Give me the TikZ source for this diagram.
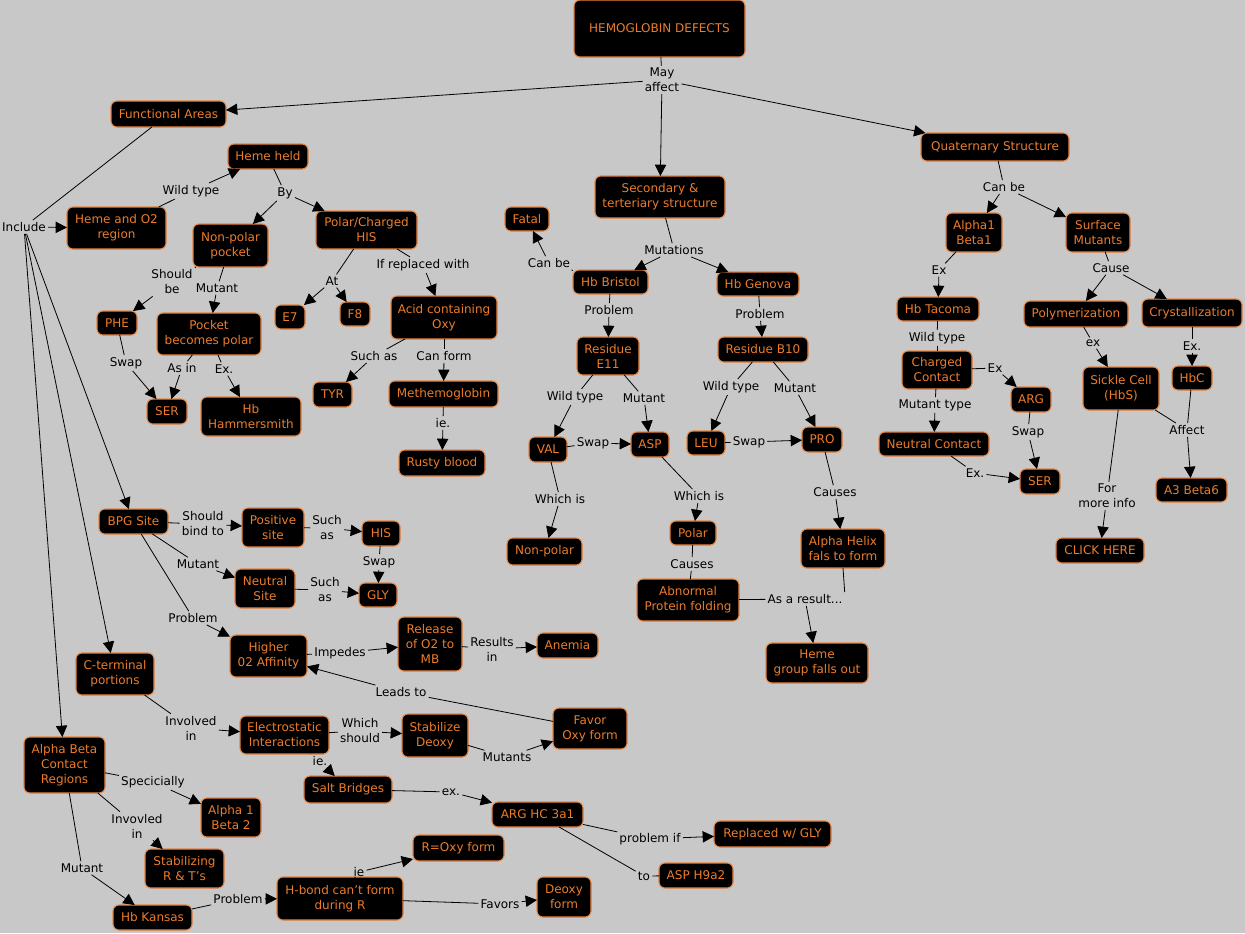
\documentclass[tikz,border=0pt]{standalone}
\usepackage{fontspec}
\setmainfont{DejaVu Sans}
\usetikzlibrary{arrows.meta}
\definecolor{bgc}{RGB}{200,200,200}
\definecolor{otext}{RGB}{236,124,44}
\definecolor{oline}{RGB}{232,132,64}
\tikzset{
  cbox/.style={draw=oline,fill=black,text=otext,rounded corners=4.5pt,line width=0.8pt,
    align=center,inner sep=1pt,outer sep=0pt,font=\fontsize{9}{11.25}\selectfont},
  lbl/.style={align=center,inner sep=1.5pt,text=black,font=\fontsize{9}{11.25}\selectfont},
  ln/.style={draw=black,line width=0.6pt},
  arr/.style={ln,-{Triangle[length=8.5pt,width=8.5pt]}}
}
\newcommand\conc[6]{\node[cbox,minimum width={(#4-#2)*0.75pt},minimum height={(#5-#3)*0.75pt}] (#1) at ({(#2+#4)/2},{(#3+#5)/2}) {#6};}
\newcommand\lab[4]{\node[lbl] (#1) at (#2,#3) {#4};}
\begin{document}
\begin{tikzpicture}[x=0.75pt,y=-0.75pt]
\fill[bgc] (0,0) rectangle (1245,933);
\useasboundingbox (0,0) rectangle (1245,933);
% concepts
\conc{hd}{574}{0}{745}{57}{HEMOGLOBIN DEFECTS}
\conc{fa}{111}{101}{226}{127}{Functional Areas}
\conc{st}{595}{176}{725}{218}{Secondary \&\\terteriary structure}
\conc{qs}{921}{133}{1069}{161}{Quaternary Structure}
\conc{hh}{228}{144}{308}{169}{Heme held}
\conc{ho}{67}{207}{166}{249}{Heme and O2\\region}
\conc{np}{193}{224}{268}{267}{Non-polar\\pocket}
\conc{pc}{316}{211}{417}{249}{Polar/Charged\\HIS}
\conc{phe}{97}{311}{137}{335}{PHE}
\conc{pbp}{157}{313}{261}{355}{Pocket\\becomes polar}
\conc{ee}{275}{305}{305}{329}{E7}
\conc{ff}{340}{302}{370}{326}{F8}
\conc{aco}{391}{296}{497}{339}{Acid containing\\Oxy}
\conc{serl}{147}{399}{187}{424}{SER}
\conc{hbh}{201}{397}{301}{436}{Hb\\Hammersmith}
\conc{tyr}{313}{382}{352}{407}{TYR}
\conc{met}{389}{381}{498}{407}{Methemoglobin}
\conc{rusty}{399}{450}{485}{476}{Rusty blood}
\conc{fatal}{505}{207}{549}{231}{Fatal}
\conc{hbb}{573}{270}{648}{294}{Hb Bristol}
\conc{hbg}{717}{272}{799}{296}{Hb Genova}
\conc{re}{577}{337}{639}{375}{Residue\\E11}
\conc{rb}{718}{337}{808}{362}{Residue B10}
\conc{val}{529}{437}{567}{462}{VAL}
\conc{asp}{631}{432}{669}{457}{ASP}
\conc{leu}{687}{431}{725}{455}{LEU}
\conc{pro}{802}{427}{842}{452}{PRO}
\conc{nonp}{507}{538}{582}{565}{Non-polar}
\conc{polar}{670}{521}{716}{545}{Polar}
\conc{ahf}{801}{529}{885}{568}{Alpha Helix\\fals to form}
\conc{apf}{637}{579}{739}{621}{Abnormal\\Protein folding}
\conc{hgf}{766}{643}{868}{683}{Heme\\group falls out}
\conc{aob}{946}{213}{1002}{252}{Alpha1\\Beta1}
\conc{sm}{1066}{213}{1130}{252}{Surface\\Mutants}
\conc{hbt}{897}{297}{979}{321}{Hb Tacoma}
\conc{poly}{1024}{301}{1128}{327}{Polymerization}
\conc{crys}{1142}{299}{1242}{327}{Crystallization}
\conc{cc}{902}{351}{972}{389}{Charged\\Contact}
\conc{argr}{1011}{387}{1051}{412}{ARG}
\conc{nc}{879}{432}{989}{456}{Neutral Contact}
\conc{serr}{1020}{469}{1060}{494}{SER}
\conc{sc}{1083}{367}{1159}{410}{Sickle Cell\\(HbS)}
\conc{hbc}{1172}{366}{1212}{390}{HbC}
\conc{atb}{1156}{478}{1227}{502}{A3 Beta6}
\conc{click}{1056}{538}{1144}{563}{CLICK HERE}
\conc{bpg}{99}{509}{168}{534}{BPG Site}
\conc{ps}{242}{508}{304}{547}{Positive\\site}
\conc{his}{362}{521}{400}{546}{HIS}
\conc{ns}{235}{569}{295}{608}{Neutral\\Site}
\conc{gly}{359}{583}{397}{607}{GLY}
\conc{hoa}{230}{635}{307}{677}{Higher\\02 Affinity}
\conc{rel}{398}{617}{462}{671}{Release\\of O2 to\\MB}
\conc{anem}{537}{633}{598}{658}{Anemia}
\conc{ct}{76}{653}{154}{695}{C-terminal\\portions}
\conc{fox}{553}{708}{627}{749}{Favor\\Oxy form}
\conc{ei}{240}{716}{329}{754}{Electrostatic\\Interactions}
\conc{sd}{402}{714}{468}{757}{Stabilize\\Deoxy}
\conc{abc}{24}{737}{105}{793}{Alpha Beta\\Contact\\Regions}
\conc{sb}{304}{776}{392}{803}{Salt Bridges}
\conc{aobt}{201}{798}{261}{837}{Alpha 1\\Beta 2}
\conc{arghc}{492}{802}{583}{827}{ARG HC 3a1}
\conc{rgly}{714}{821}{831}{847}{Replaced w/ GLY}
\conc{roxy}{413}{835}{504}{861}{R=Oxy form}
\conc{srt}{145}{849}{224}{888}{Stabilizing\\R \& T's}
\conc{asph}{659}{863}{733}{888}{ASP H9a2}
\conc{hbond}{277}{877}{403}{920}{H-bond can't form\\during R}
\conc{dof}{537}{877}{591}{917}{Deoxy\\form}
\conc{kansas}{113}{905}{192}{930}{Hb Kansas}
% linking phrases
\lab{lmay}{662}{80}{May\\affect}
\lab{linc}{24}{227}{Include}
\lab{lwta}{191}{191}{Wild type}
\lab{lby}{285}{193}{By}
\lab{lsb}{172}{282}{Should\\be}
\lab{lmua}{217}{288}{Mutant}
\lab{lat}{332}{281}{At}
\lab{lirw}{423}{265}{If replaced with}
\lab{lswa}{126}{363}{Swap}
\lab{lasin}{182}{368}{As in}
\lab{lexa}{224}{369}{Ex.}
\lab{lsaa}{374}{356}{Such as}
\lab{lcf}{444}{356}{Can form}
\lab{liea}{443}{423}{ie.}
\lab{lcba}{549}{263}{Can be}
\lab{lmut}{674}{250}{Mutations}
\lab{lpra}{609}{310}{Problem}
\lab{lprb}{760}{314}{Problem}
\lab{lwtb}{575}{397}{Wild type}
\lab{lmub}{644}{398}{Mutant}
\lab{lwtc}{731}{387}{Wild type}
\lab{lmuc}{795}{388}{Mutant}
\lab{lswb}{593}{443}{Swap}
\lab{lswc}{749}{442}{Swap}
\lab{lwia}{560}{499}{Which is}
\lab{lwib}{699}{496}{Which is}
\lab{lcaa}{835}{492}{Causes}
\lab{lcab}{692}{564}{Causes}
\lab{laar}{805}{599}{As a result...}
\lab{lcbb}{1004}{187}{Can be}
\lab{lexb}{939}{270}{Ex}
\lab{lcause}{1111}{268}{Cause}
\lab{lwtd}{937}{338}{Wild type}
\lab{lexc}{995}{368}{Ex}
\lab{lmt}{935}{405}{Mutant type}
\lab{lswd}{1028}{432}{Swap}
\lab{lexd}{975}{473}{Ex.}
\lab{lexe}{1093}{343}{ex}
\lab{lexf}{1192}{346}{Ex.}
\lab{laff}{1187}{430}{Affect}
\lab{lfmi}{1107}{496}{For\\more info}
\lab{lsbt}{203}{524}{Should\\bind to}
\lab{lsab}{327}{528}{Such\\as}
\lab{lswe}{379}{562}{Swap}
\lab{lmud}{198}{564}{Mutant}
\lab{lsac}{325}{590}{Such\\as}
\lab{lprc}{193}{618}{Problem}
\lab{limp}{340}{653}{Impedes}
\lab{lri}{492}{649}{Results\\in}
\lab{llt}{401}{692}{Leads to}
\lab{lii}{191}{728}{Involved\\in}
\lab{lws}{360}{731}{Which\\should}
\lab{lmts}{507}{757}{Mutants}
\lab{lieb}{320}{761}{ie.}
\lab{lspec}{153}{782}{Specicially}
\lab{linv}{137}{826}{Invovled\\in}
\lab{lexg}{451}{792}{ex.}
\lab{lpif}{650}{839}{problem if}
\lab{lto}{644}{876}{to}
\lab{lmue}{82}{868}{Mutant}
\lab{liec}{359}{872}{ie}
\lab{lprd}{238}{899}{Problem}
\lab{lfav}{500}{904}{Favors}
% connectors
\draw[ln] (hd) -- (lmay);
\draw[arr] (lmay) -- (fa);
\draw[arr] (lmay) -- (st);
\draw[arr] (lmay) -- (qs);
\draw[ln] (fa) -- (linc);
\draw[arr] (linc) -- (ho);
\draw[arr] (linc) -- (bpg);
\draw[arr] (linc) -- (ct);
\draw[arr] (linc) -- (abc);
\draw[ln] (ho) -- (lwta);
\draw[arr] (lwta) -- (hh);
\draw[ln] (hh) -- (lby);
\draw[arr] (lby) -- (np);
\draw[arr] (lby) -- (pc);
\draw[ln] (np) -- (lsb);
\draw[arr] (lsb) -- (phe);
\draw[ln] (np) -- (lmua);
\draw[arr] (lmua) -- (pbp);
\draw[ln] (pc) -- (lat);
\draw[arr] (lat) -- (ee);
\draw[arr] (lat) -- (ff);
\draw[ln] (pc) -- (lirw);
\draw[arr] (lirw) -- (aco);
\draw[ln] (phe) -- (lswa);
\draw[arr] (lswa) -- (serl);
\draw[ln] (pbp) -- (lasin);
\draw[arr] (lasin) -- (serl);
\draw[ln] (pbp) -- (lexa);
\draw[arr] (lexa) -- (hbh);
\draw[ln] (aco) -- (lsaa);
\draw[arr] (lsaa) -- (tyr);
\draw[ln] (aco) -- (lcf);
\draw[arr] (lcf) -- (met);
\draw[ln] (met) -- (liea);
\draw[arr] (liea) -- (rusty);
\draw[ln] (st) -- (lmut);
\draw[arr] (lmut) -- (hbb);
\draw[arr] (lmut) -- (hbg);
\draw[ln] (hbb) -- (lcba);
\draw[arr] (lcba) -- (fatal);
\draw[ln] (hbb) -- (lpra);
\draw[arr] (lpra) -- (re);
\draw[ln] (hbg) -- (lprb);
\draw[arr] (lprb) -- (rb);
\draw[ln] (re) -- (lwtb);
\draw[arr] (lwtb) -- (val);
\draw[ln] (re) -- (lmub);
\draw[arr] (lmub) -- (asp);
\draw[ln] (rb) -- (lwtc);
\draw[arr] (lwtc) -- (leu);
\draw[ln] (rb) -- (lmuc);
\draw[arr] (lmuc) -- (pro);
\draw[ln] (val) -- (lswb);
\draw[arr] (lswb) -- (asp);
\draw[ln] (leu) -- (lswc);
\draw[arr] (lswc) -- (pro);
\draw[ln] (val) -- (lwia);
\draw[arr] (lwia) -- (nonp);
\draw[ln] (asp) -- (lwib);
\draw[arr] (lwib) -- (polar);
\draw[ln] (pro) -- (lcaa);
\draw[arr] (lcaa) -- (ahf);
\draw[ln] (polar) -- (lcab);
\draw[ln] (lcab) -- (apf);
\draw[ln] (apf) -- (laar);
\draw[ln] (ahf.south) -- (laar.north east);
\draw[arr] (laar) -- (hgf);
\draw[ln] (qs) -- (lcbb);
\draw[arr] (lcbb) -- (aob);
\draw[arr] (lcbb) -- (sm);
\draw[ln] (aob) -- (lexb);
\draw[arr] (lexb) -- (hbt);
\draw[ln] (sm) -- (lcause);
\draw[arr] (lcause) -- (poly);
\draw[arr] (lcause) -- (crys);
\draw[ln] (hbt) -- (lwtd);
\draw[ln] (lwtd) -- (cc);
\draw[ln] (cc) -- (lexc);
\draw[arr] (lexc) -- (argr);
\draw[ln] (cc) -- (lmt);
\draw[arr] (lmt) -- (nc);
\draw[ln] (argr) -- (lswd);
\draw[arr] (lswd) -- (serr);
\draw[ln] (nc) -- (lexd);
\draw[arr] (lexd) -- (serr);
\draw[ln] (poly) -- (lexe);
\draw[arr] (lexe) -- (sc);
\draw[ln] (crys) -- (lexf);
\draw[arr] (lexf) -- (hbc);
\draw[ln] (sc) -- (laff);
\draw[ln] (hbc) -- (laff);
\draw[arr] (laff) -- (atb);
\draw[ln] (sc) -- (lfmi);
\draw[arr] (lfmi) -- (click);
\draw[ln] (bpg) -- (lsbt);
\draw[arr] (lsbt) -- (ps);
\draw[ln] (ps) -- (lsab);
\draw[arr] (lsab) -- (his);
\draw[ln] (his) -- (lswe);
\draw[arr] (lswe) -- (gly);
\draw[ln] (bpg) -- (lmud);
\draw[arr] (lmud) -- (ns);
\draw[ln] (ns) -- (lsac);
\draw[arr] (lsac) -- (gly);
\draw[ln] (bpg) -- (lprc);
\draw[arr] (lprc) -- (hoa);
\draw[ln] (hoa) -- (limp);
\draw[arr] (limp) -- (rel);
\draw[ln] (rel) -- (lri);
\draw[arr] (lri) -- (anem);
\draw[ln] (fox) -- (llt);
\draw[arr] (llt) -- (hoa);
\draw[ln] (ct) -- (lii);
\draw[arr] (lii) -- (ei);
\draw[ln] (ei) -- (lws);
\draw[arr] (lws) -- (sd);
\draw[ln] (sd) -- (lmts);
\draw[arr] (lmts) -- (fox);
\draw[ln] (ei) -- (lieb);
\draw[arr] (lieb) -- (sb);
\draw[ln] (sb) -- (lexg);
\draw[arr] (lexg) -- (arghc);
\draw[ln] (arghc) -- (lpif);
\draw[arr] (lpif) -- (rgly);
\draw[ln] (arghc) -- (lto);
\draw[ln] (lto) -- (asph);
\draw[ln] (abc) -- (lspec);
\draw[arr] (lspec) -- (aobt);
\draw[ln] (abc) -- (linv);
\draw[arr] (linv) -- (srt);
\draw[ln] (abc) -- (lmue);
\draw[arr] (lmue) -- (kansas);
\draw[ln] (kansas) -- (lprd);
\draw[arr] (lprd) -- (hbond);
\draw[ln] (hbond) -- (liec);
\draw[arr] (liec) -- (roxy);
\draw[ln] (hbond) -- (lfav);
\draw[arr] (lfav) -- (dof);
\end{tikzpicture}
\end{document}
